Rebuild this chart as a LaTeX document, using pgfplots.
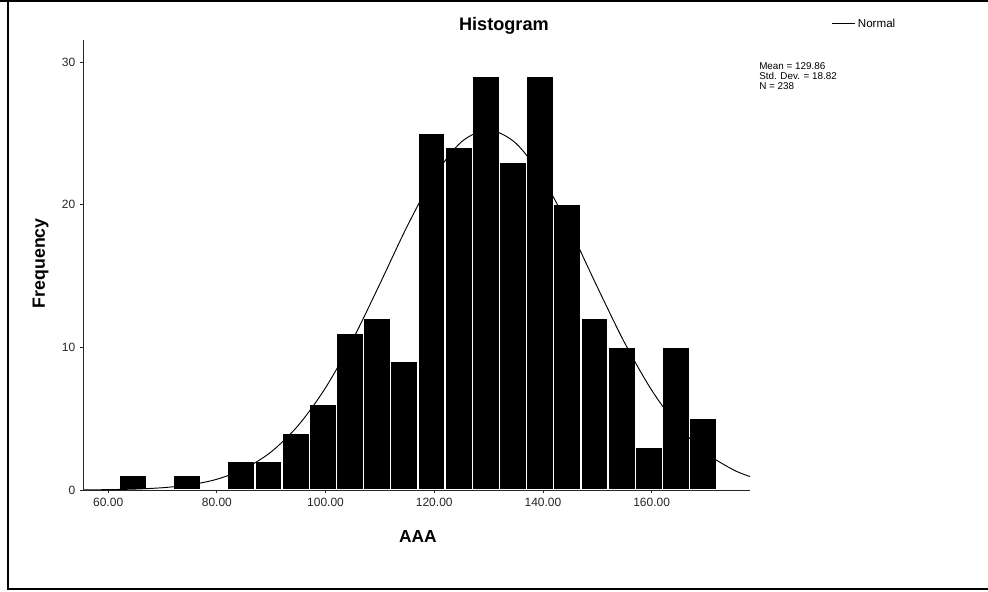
\documentclass[border=0pt]{standalone}
\usepackage{fontspec}
\setmainfont{Liberation Sans}
\usepackage{pgfplots}
\pgfplotsset{compat=1.18}
\begin{document}
\begin{tikzpicture}[x=0.75pt,y=0.75pt]
\useasboundingbox (0,0) rectangle (988,-592);
\clip (0,0) rectangle (988,-592);
\draw[line width=1.5pt] (7.5,-1) -- (7.5,-588.5) -- (995,-588.5);
\draw[line width=2.2pt] (0,-0.5) -- (995,-0.5);
\coordinate (ao) at (83,-490);
\begin{axis}[
  at={(ao)}, anchor=south west,
  scale only axis, width=500.25pt, height=337.5pt,
  xmin=55.37, xmax=178.1, ymin=0, ymax=31.54,
  axis x line*=bottom, axis y line*=left,
  axis line style={line width=0.75pt, black!85},
  axis on top,
  tick align=outside, major tick length=2.25pt,
  tick style={black!85, line width=0.6pt},
  xtick={60,80,100,120,140,160},
  ytick={0,10,20,30},
  xticklabel style={/pgf/number format/.cd, fixed, fixed zerofill, precision=2},
  /pgf/number format/assume math mode=true,
  ticklabel style={font=\fontsize{9}{11}\selectfont, text=black!85},
  title={Histogram},
  title style={font=\fontsize{13.6}{16}\selectfont\bfseries, at={(0.631,1.004)}, anchor=base},
  xlabel={AAA},
  xlabel style={font=\fontsize{13}{16}\selectfont\bfseries, at={(0.502,-0.1156)}, anchor=base},
  ylabel={Frequency},
  ylabel style={font=\fontsize{13.3}{16}\selectfont\bfseries, at={(-0.057,0.504)}, anchor=base, rotate=0},
  legend style={at={(1.122,1.036)}, anchor=west, draw=none, fill=none, inner sep=0pt,
    font=\fontsize{8.7}{10}\selectfont, nodes={inner sep=1.5pt}},
  legend image code/.code={\draw[#1] (0pt,0pt) -- (17.5pt,0pt);},
]
\addplot[ybar interval, fill=black, draw=white, line width=1pt, forget plot] coordinates {
  (62,1) (67,0) (72,1) (77,0) (82,2) (87,2) (92,4) (97,6) (102,11) (107,12)
  (112,9) (117,25) (122,24) (127,29) (132,23) (137,29) (142,20) (147,12)
  (152,10) (157,3) (162,10) (167,5) (172,0)
};
\addplot[black, line width=0.7pt, smooth, no marks] coordinates {
  (55.4,0.010) (60,0.026) (65,0.066) (70,0.160) (75,0.360) (80,0.754)
  (85,1.472) (90,2.677) (95,4.536) (100,7.166) (105,10.54) (110,14.45)
  (115,18.47) (120,21.99) (125,24.40) (130,25.23) (135,24.31) (140,21.82)
  (145,18.25) (150,14.23) (155,10.34) (160,7.00) (165,4.413) (170,2.594)
  (175,1.421) (178.1,0.945)
};
\addlegendentry{Normal}
\end{axis}
\node[anchor=north west, inner sep=0pt, align=left, font=\fontsize{7.4}{7.6}\selectfont] at (759,-62) {Mean = 129.86\\Std. Dev. = 18.82\\N = 238};
\end{tikzpicture}
\end{document}
